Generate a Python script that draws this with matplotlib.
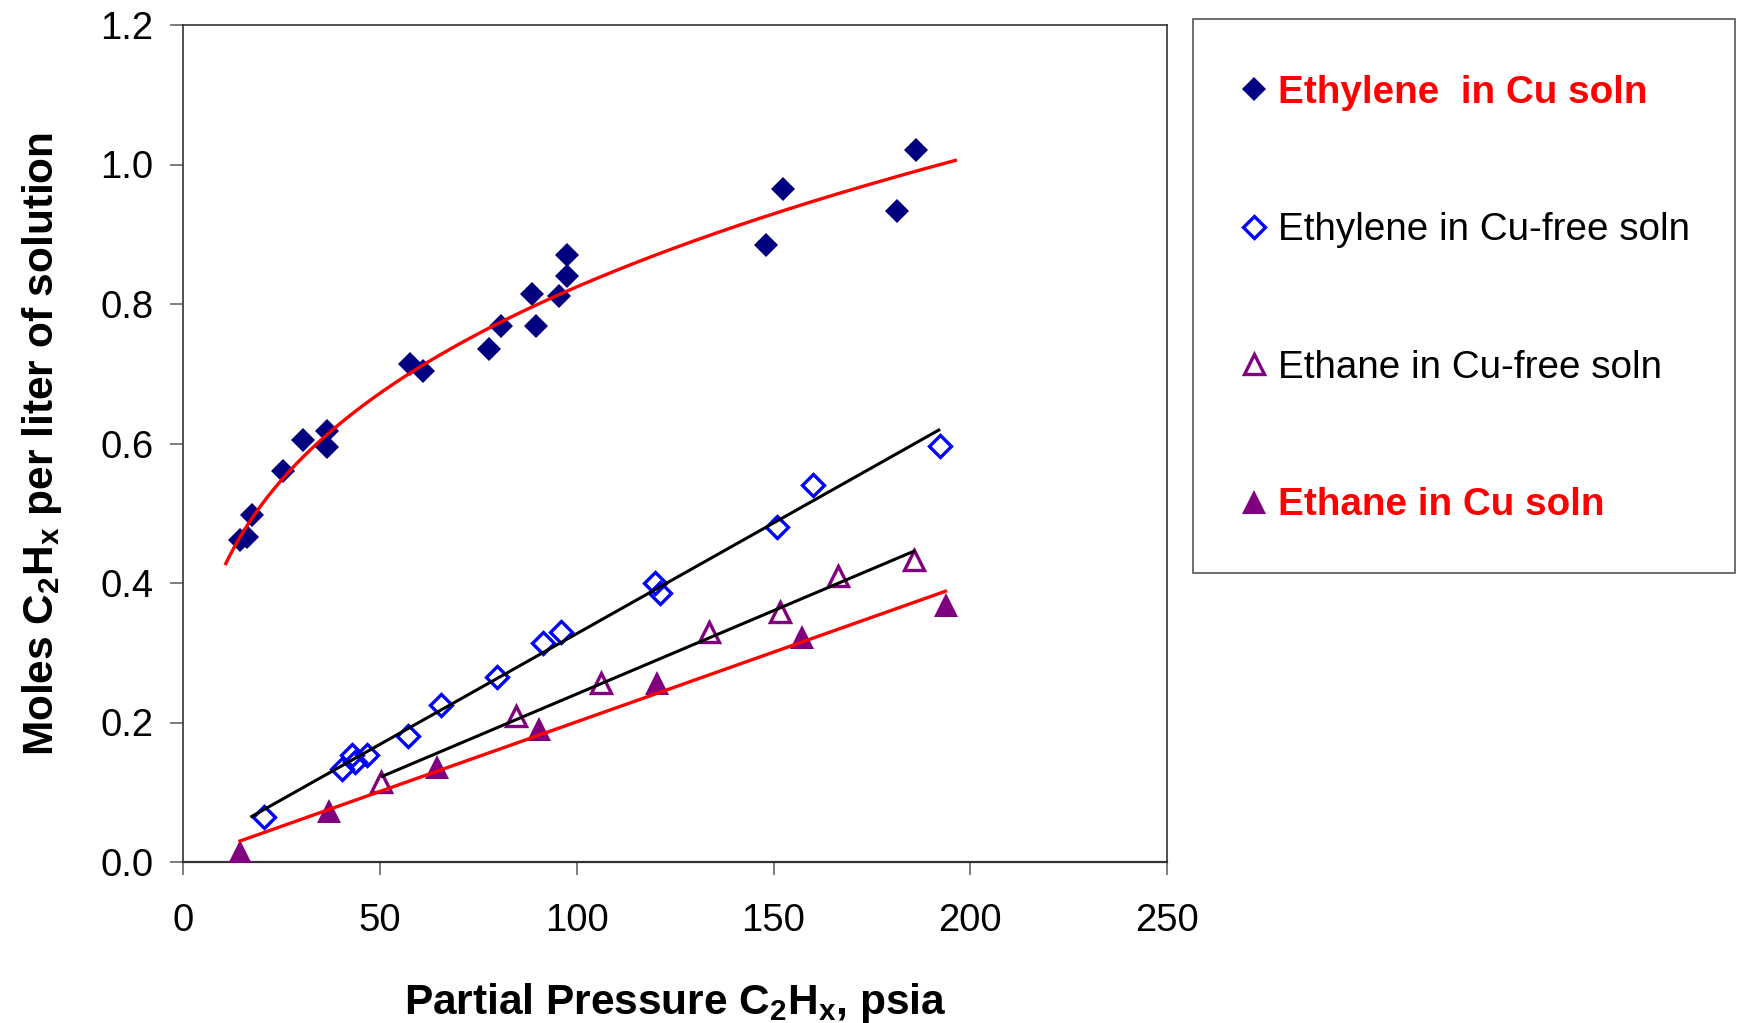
import matplotlib
matplotlib.use("Agg")
import matplotlib.pyplot as plt
import numpy as np
from matplotlib.lines import Line2D
from matplotlib.patches import Rectangle


# Ethylene in Cu solution (filled navy diamonds)
ethylene_cu_x = [14.4, 16.1, 17.4, 25.4, 30.5, 36.5, 36.5, 57.5, 61.0, 77.6,
                 80.7, 88.7, 89.7, 95.5, 97.6, 97.5, 148.1, 152.4, 181.4, 186.2]
ethylene_cu_y = [0.461, 0.466, 0.497, 0.561, 0.605, 0.618, 0.595, 0.714, 0.704, 0.735,
                 0.769, 0.814, 0.768, 0.812, 0.840, 0.870, 0.885, 0.965, 0.933, 1.021]

# Ethylene in Cu-free solution (open blue diamonds)
ethylene_free_x = [20.6, 40.4, 43.0, 43.7, 46.8, 57.2, 65.4, 79.8, 91.5, 95.9,
                   119.9, 121.2, 151.0, 160.0, 192.2]
ethylene_free_y = [0.065, 0.133, 0.154, 0.144, 0.153, 0.181, 0.225, 0.265, 0.314, 0.330,
                   0.400, 0.386, 0.480, 0.541, 0.596]

# Ethane in Cu-free solution (open purple triangles)
ethane_free_x = [50.3, 84.5, 106.1, 133.7, 151.7, 166.3, 185.6]
ethane_free_y = [0.114, 0.209, 0.257, 0.330, 0.359, 0.410, 0.433]

# Ethane in Cu solution (filled purple triangles)
ethane_cu_x = [14.4, 37.0, 64.4, 90.5, 120.5, 157.2, 193.8]
ethane_cu_y = [0.015, 0.073, 0.136, 0.191, 0.257, 0.322, 0.369]

# trendline extents (x range drawn for each fit)
ethylene_cu_fit_span = (10.8, 196.2)
ethylene_free_fit_span = (17.4, 192.0)
ethane_free_fit_span = (50.6, 185.6)
ethane_cu_fit_span = (14.4, 193.7)

legend_labels = ["Ethylene  in Cu soln", "Ethylene in Cu-free soln",
                 "Ethane in Cu-free soln", "Ethane in Cu soln"]

x_ticks = [0, 50, 100, 150, 200, 250]
y_ticks = [0.0, 0.2, 0.4, 0.6, 0.8, 1.0, 1.2]

NAVY = "#000080"
BLUE = "#0000FF"
PURPLE = "#800080"
RED = "#FF0000"

plt.rcParams.update({
    "font.family": ["Liberation Sans", "DejaVu Sans"],
    "font.size": 27,
    "mathtext.default": "regular",
})

# marker styles shared by the plot and the legend
styles = [
    dict(marker="D", markersize=12.5, color=NAVY, markeredgewidth=0),
    dict(marker="D", markersize=11, markerfacecolor="none", markeredgecolor=BLUE, markeredgewidth=2.4),
    dict(marker="^", markersize=15, markerfacecolor="none", markeredgecolor=PURPLE, markeredgewidth=2.4),
    dict(marker="^", markersize=17.5, color=PURPLE, markeredgewidth=0),
]


def linear_fit(x, y, span):
    slope, intercept = np.polyfit(x, y, 1)
    xs = np.array(span)
    return xs, slope * xs + intercept


def power_fit(x, y, span):
    b, log_a = np.polyfit(np.log(x), np.log(y), 1)
    xs = np.linspace(span[0], span[1], 200)
    return xs, np.exp(log_a) * xs ** b


W, H = 1737, 1023
fig = plt.figure(figsize=(W / 100, H / 100), dpi=100)
ax = fig.add_axes([183.3 / W, 1 - 862 / H, (1167 - 183.3) / W, (862 - 25) / H])

series = [(ethylene_cu_x, ethylene_cu_y), (ethylene_free_x, ethylene_free_y),
          (ethane_free_x, ethane_free_y), (ethane_cu_x, ethane_cu_y)]
for (xs, ys), style in zip(series, styles):
    ax.plot(xs, ys, linestyle="none", zorder=3, **style)

ax.plot(*power_fit(ethylene_cu_x, ethylene_cu_y, ethylene_cu_fit_span), color=RED, lw=2.4, zorder=4)
ax.plot(*linear_fit(ethylene_free_x, ethylene_free_y, ethylene_free_fit_span), color="black", lw=2.2, zorder=4)
ax.plot(*linear_fit(ethane_free_x, ethane_free_y, ethane_free_fit_span), color="black", lw=2.2, zorder=4)
ax.plot(*linear_fit(ethane_cu_x, ethane_cu_y, ethane_cu_fit_span), color=RED, lw=2.4, zorder=4)

ax.set_xlim(0, 250)
ax.set_ylim(0, 1.2)
ax.set_xticks(x_ticks)
ax.set_yticks(y_ticks)
ax.set_yticklabels([f"{v:.1f}" for v in y_ticks])
ax.tick_params(direction="out", length=9.5, width=1.2, color="#666666", labelsize=27.5)
ax.tick_params(axis="y", pad=12)
ax.tick_params(axis="x", pad=20)
for spine in ax.spines.values():
    spine.set_color("#333333")
    spine.set_linewidth(1.2)
ax.spines["bottom"].set_linewidth(1.6)

ax.set_xlabel("Partial Pressure C$_2$H$_x$, psia", fontsize=30.5, fontweight="bold", labelpad=30)
ax.set_ylabel("Moles C$_2$H$_x$ per liter of solution", fontsize=30.5, fontweight="bold", labelpad=26)

handles = [Line2D([], [], linestyle="none", **style) for style in styles]
legend = fig.legend(handles, legend_labels, loc="upper left",
                    bbox_to_anchor=(1193 / W, 1 - 19 / H), borderaxespad=0,
                    fontsize=27.8, frameon=False, borderpad=1.44,
                    labelspacing=2.63, handlelength=0.3, handletextpad=0.47,
                    numpoints=1)
for text, bold in zip(legend.get_texts(), [True, False, False, True]):
    if bold:
        text.set_color(RED)
        text.set_fontweight("bold")

# legend frame box
fig.patches.append(Rectangle((1193 / W, 1 - 573 / H), (1735 - 1193) / W, (573 - 19) / H,
                             transform=fig.transFigure, fill=False,
                             edgecolor="#555555", linewidth=1.2))

fig.savefig("out.png", dpi=100)
